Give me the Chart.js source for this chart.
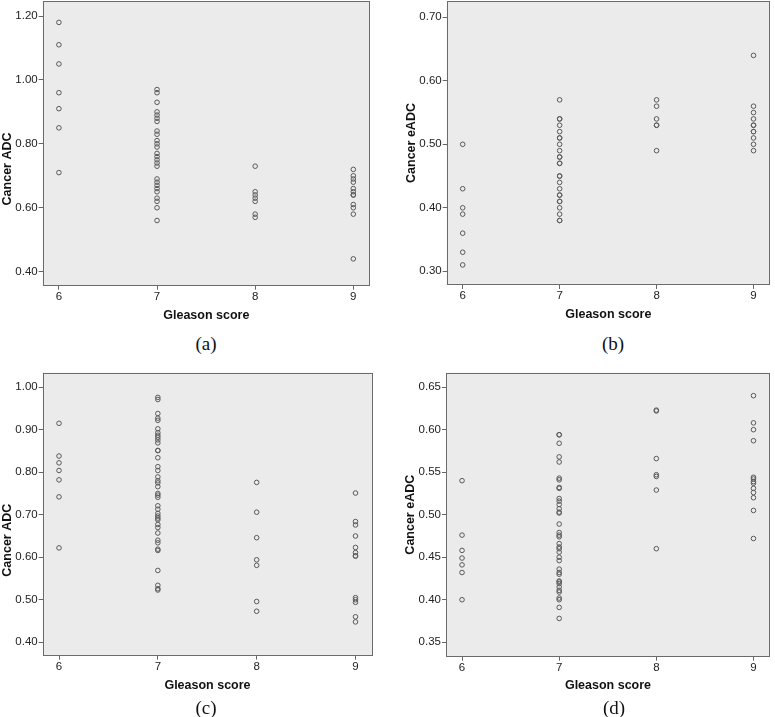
<!DOCTYPE html>
<html>
<head>
<meta charset="utf-8">
<script src="https://cdn.jsdelivr.net/npm/chart.js@4.4.0/dist/chart.umd.min.js"></script>
<style>
  html, body { margin: 0; padding: 0; background: #fff; overflow: hidden; }
  body { position: relative; width: 775px; height: 717px; }
  canvas { position: absolute; }
  .cap {
    position: absolute; transform: translate(-50%, -50%);
    font-family: "Liberation Serif", "Times New Roman", serif;
    font-size: 19px; line-height: 1; color: #111;
  }
</style>
</head>
<body>
<canvas id="chart-a"></canvas>
<canvas id="chart-b"></canvas>
<canvas id="chart-c"></canvas>
<canvas id="chart-d"></canvas>
<div class="cap" style="left:206px; top:343px">(a)</div>
<div class="cap" style="left:613px; top:343px">(b)</div>
<div class="cap" style="left:206px; top:707px">(c)</div>
<div class="cap" style="left:614px; top:707px">(d)</div>
<script>
// --- Data ---
const gleason = [6, 7, 8, 9];

// (a) Cancer ADC
const adcA6 = [1.18, 1.11, 1.05, 0.96, 0.91, 0.85, 0.71];
const adcA7 = [0.97, 0.96, 0.93, 0.90, 0.89, 0.88, 0.87, 0.84, 0.83, 0.81, 0.80, 0.79, 0.77,
               0.76, 0.75, 0.74, 0.73, 0.69, 0.68, 0.67, 0.66, 0.65, 0.63, 0.62, 0.60, 0.56];
const adcA8 = [0.73, 0.65, 0.64, 0.63, 0.62, 0.58, 0.57];
const adcA9 = [0.72, 0.70, 0.69, 0.68, 0.66, 0.65, 0.64, 0.64, 0.61, 0.60, 0.58, 0.44];
const ticksA = [0.40, 0.60, 0.80, 1.00, 1.20];

// (b) Cancer eADC
const eadcB6 = [0.50, 0.43, 0.40, 0.39, 0.36, 0.33, 0.31];
const eadcB7 = [0.57, 0.54, 0.54, 0.53, 0.52, 0.51, 0.51, 0.50, 0.49, 0.48, 0.48, 0.47, 0.47,
                0.45, 0.45, 0.44, 0.43, 0.42, 0.42, 0.41, 0.41, 0.40, 0.39, 0.38, 0.38];
const eadcB8 = [0.57, 0.56, 0.54, 0.53, 0.53, 0.49];
const eadcB9 = [0.64, 0.56, 0.55, 0.54, 0.53, 0.53, 0.52, 0.52, 0.51, 0.50, 0.49];
const ticksB = [0.30, 0.40, 0.50, 0.60, 0.70];

// (c) Cancer ADC
const adcC6 = [0.915, 0.838, 0.822, 0.804, 0.782, 0.742, 0.622];
const adcC7 = [0.976, 0.971, 0.938, 0.927, 0.922, 0.902, 0.893, 0.887, 0.882, 0.876, 0.869,
               0.851, 0.851, 0.834, 0.813, 0.804, 0.789, 0.780, 0.775, 0.766, 0.750, 0.746,
               0.741, 0.721, 0.713, 0.703, 0.697, 0.692, 0.688, 0.677, 0.670, 0.657, 0.640,
               0.634, 0.619, 0.616, 0.569, 0.534, 0.526, 0.523];
const adcC8 = [0.776, 0.706, 0.646, 0.594, 0.581, 0.496, 0.473];
const adcC9 = [0.751, 0.684, 0.676, 0.650, 0.623, 0.611, 0.603, 0.603, 0.505, 0.500, 0.494,
               0.460, 0.448];
const ticksC = [0.40, 0.50, 0.60, 0.70, 0.80, 0.90, 1.00];

// (d) Cancer eADC
const eadcD6 = [0.540, 0.476, 0.458, 0.449, 0.441, 0.432, 0.400];
const eadcD7 = [0.594, 0.594, 0.584, 0.568, 0.562, 0.543, 0.541, 0.532, 0.531, 0.519, 0.516,
                0.512, 0.507, 0.503, 0.502, 0.489, 0.479, 0.476, 0.474, 0.466, 0.462, 0.460,
                0.456, 0.450, 0.446, 0.436, 0.432, 0.430, 0.422, 0.421, 0.419, 0.415, 0.411,
                0.409, 0.402, 0.400, 0.391, 0.378];
const eadcD8 = [0.623, 0.622, 0.566, 0.547, 0.545, 0.529, 0.460];
const eadcD9 = [0.640, 0.608, 0.600, 0.587, 0.544, 0.542, 0.539, 0.537, 0.531, 0.526, 0.520,
                0.505, 0.472];
const ticksD = [0.35, 0.40, 0.45, 0.50, 0.55, 0.60, 0.65];

// --- Shared look ---
Chart.defaults.font.family = '"Liberation Sans", Arial, sans-serif';
const tickFont = { size: 11.5 };
const titleFont = { size: 12.5, weight: 'bold' };

// grey plot background + frame, like the SPSS output
const plotFrame = {
    id: 'plotFrame',
    beforeDraw(chart) {
        const { ctx, chartArea: a } = chart;
        ctx.save();
        ctx.fillStyle = '#ebebeb';
        ctx.fillRect(a.left, a.top, a.width, a.height);
        ctx.restore();
    },
    afterDraw(chart) {
        const { ctx, chartArea: a } = chart;
        ctx.save();
        ctx.strokeStyle = '#6b6b6b';
        ctx.lineWidth = 1;
        ctx.strokeRect(Math.round(a.left) + 0.5, Math.round(a.top) + 0.5,
                       Math.round(a.width) - 1, Math.round(a.height) - 1);
        ctx.restore();
    }
};

// rotated y title, which sits off-centre in two of the panels
const yTitle = {
    id: 'yTitle',
    afterDraw(chart, args, opts) {
        const { ctx, chartArea: a } = chart;
        ctx.save();
        ctx.translate(opts.x, (a.top + a.bottom) / 2 + opts.shift);
        ctx.rotate(-Math.PI / 2);
        ctx.font = 'bold 12.5px "Liberation Sans", Arial, sans-serif';
        ctx.fillStyle = '#111';
        ctx.textAlign = 'center';
        ctx.textBaseline = 'middle';
        ctx.fillText(opts.text, 0, 0);
        ctx.restore();
    }
};

function makePanel(id, cv, plot, groups, yTicks, yMin, yMax, yText, titleX, titleShift) {
    const canvas = document.getElementById(id);
    canvas.width = cv.w; canvas.height = cv.h;
    canvas.style.left = cv.left + 'px';
    canvas.style.top = cv.top + 'px';

    const yWidth = plot.l - cv.left;
    const xHeight = cv.top + cv.h - plot.b;

    const datasets = groups.map((vals, i) => ({
        data: vals.map(v => ({ x: gleason[i], y: v })),
        pointStyle: 'circle',
        pointRadius: 2.3,
        pointBorderWidth: 1,
        borderColor: '#5a5a5a',
        backgroundColor: 'rgba(0,0,0,0)'
    }));

    const axisGrid = { display: true, drawOnChartArea: false, drawTicks: true, tickLength: 4, color: '#666' };

    return new Chart(canvas, {
        type: 'scatter',
        data: { datasets },
        options: {
            responsive: false,
            devicePixelRatio: 1,
            animation: false,
            events: [],
            layout: { padding: { top: plot.t - cv.top, right: cv.left + cv.w - plot.r, left: 0, bottom: 0 } },
            plugins: {
                legend: { display: false },
                tooltip: { enabled: false },
                yTitle: { text: yText, x: titleX, shift: titleShift }
            },
            scales: {
                x: {
                    type: 'linear', min: 5.835, max: 9.17,
                    afterBuildTicks: s => { s.ticks = gleason.map(v => ({ value: v })); },
                    afterFit: s => { s.height = xHeight; },
                    ticks: { font: tickFont, color: '#222', padding: 0, callback: v => v },
                    grid: axisGrid,
                    border: { display: false },
                    title: { display: true, text: 'Gleason score', font: titleFont, color: '#111',
                             padding: { top: 0, bottom: 4 } }
                },
                y: {
                    type: 'linear', min: yMin, max: yMax,
                    afterBuildTicks: s => { s.ticks = yTicks.map(v => ({ value: v })); },
                    afterFit: s => { s.width = yWidth; },
                    ticks: { font: tickFont, color: '#222', padding: 1, callback: v => v.toFixed(2) },
                    grid: axisGrid,
                    border: { display: false }
                }
            }
        },
        plugins: [plotFrame, yTitle]
    });
}

// --- Build the four panels ---
makePanel('chart-a', { left: 0, top: -11, w: 385, h: 338 }, { l: 42.7, t: 1, r: 370, b: 285.7 },
          [adcA6, adcA7, adcA8, adcA9], ticksA, 0.356, 1.247, 'Cancer ADC', 7.2, 25.6);
makePanel('chart-b', { left: 385, top: -11, w: 390, h: 337 }, { l: 446.7, t: 1, r: 772.7, b: 285 },
          [eadcB6, eadcB7, eadcB8, eadcB9], ticksB, 0.2784, 0.7257, 'Cancer eADC', 26.7, 0);
makePanel('chart-c', { left: 0, top: 361, w: 385, h: 336 }, { l: 42.7, t: 372.7, r: 372.3, b: 655.7 },
          [adcC6, adcC7, adcC8, adcC9], ticksC, 0.3685, 1.034, 'Cancer ADC', 7.2, 26);
makePanel('chart-d', { left: 385, top: 361, w: 390, h: 336 }, { l: 446, t: 372.7, r: 772.7, b: 656.7 },
          [eadcD6, eadcD7, eadcD8, eadcD9], ticksD, 0.333, 0.667, 'Cancer eADC', 25.7, 0);
</script>
</body>
</html>
